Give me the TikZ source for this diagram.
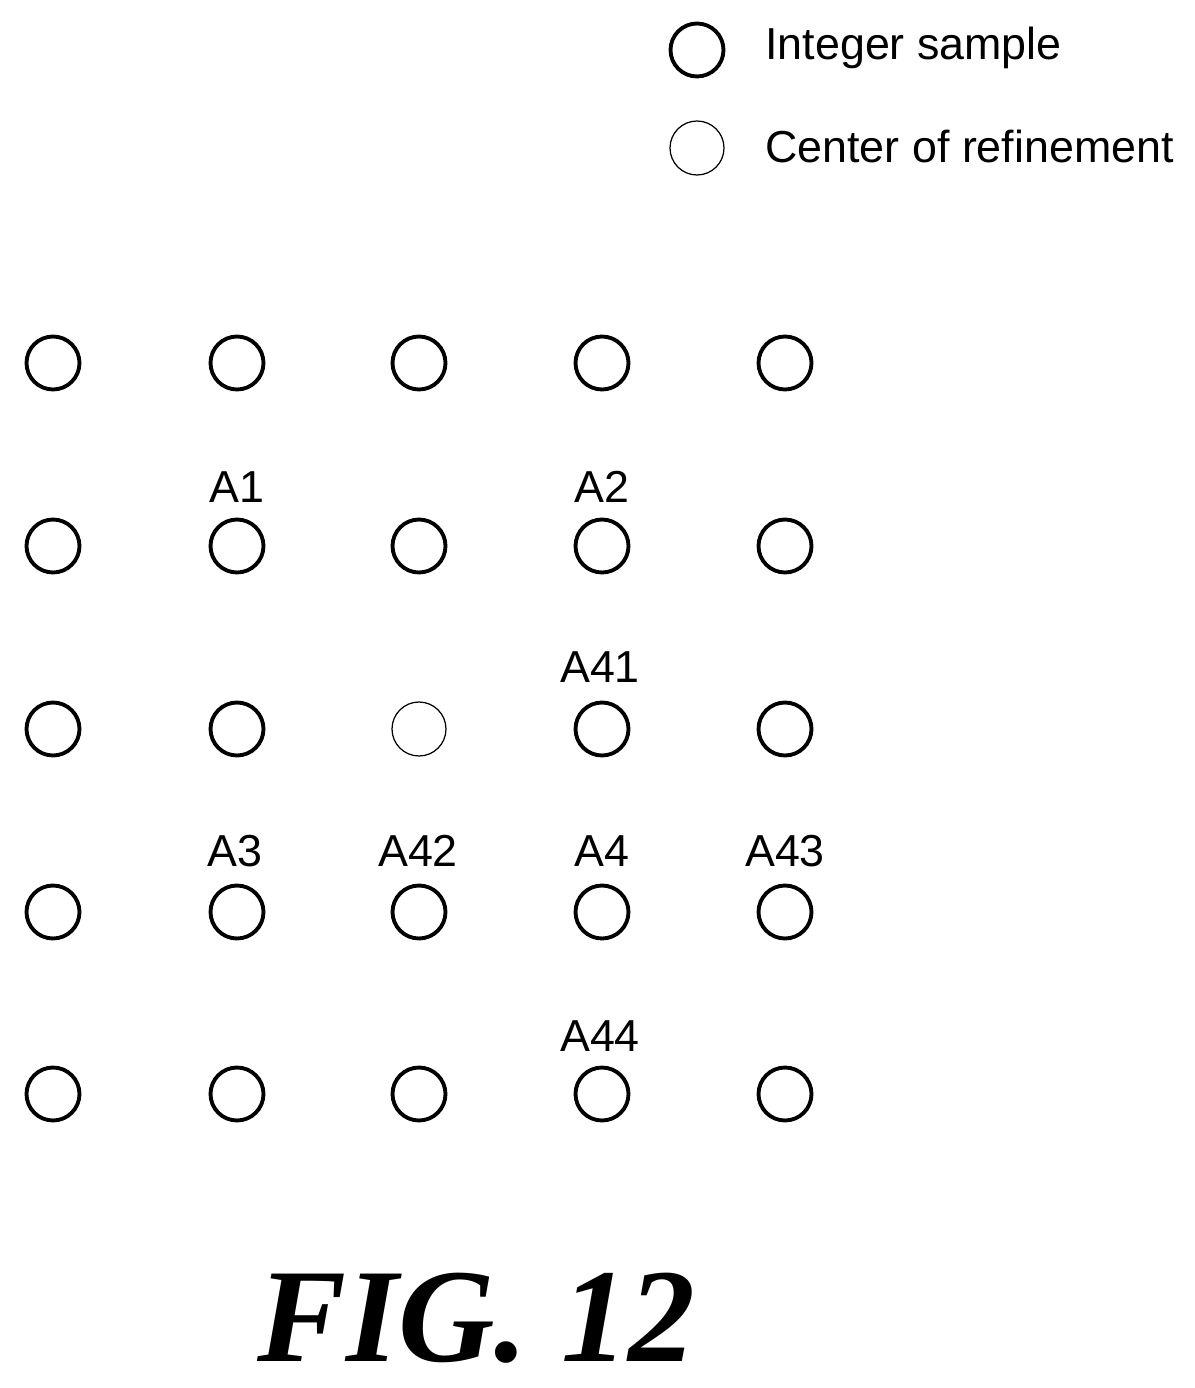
\documentclass[tikz,border=0pt]{standalone}
\usepackage{fontspec}
\setmainfont{Liberation Sans}
\newfontfamily\figfont{Liberation Serif}
\usetikzlibrary{positioning}
\begin{document}
\begin{tikzpicture}[x=0.02cm,y=-0.02cm,
  sample/.style={circle,draw,line width=2.2pt,minimum size=1.06cm,inner sep=0pt},
  center/.style={circle,draw,line width=0.7pt,minimum size=1.08cm,inner sep=0pt},
  lbl/.style={font=\fontsize{25.5}{28}\selectfont,inner sep=0pt}]
  \useasboundingbox (0,0) rectangle (1194,1388);
  % legend
  \node[sample] (legint) at (697,50) {};
  \node[center] (legcen) at (697,148) {};
  \node[lbl,anchor=west] (txtint) at (765,48) {Integer sample};
  \node[lbl,anchor=west] (txtcen) at (765,146) {Center of refinement};
  % grid of samples
  \foreach \c/\x in {1/53,2/237,3/419,4/602,5/785}
    \foreach \r/\y in {1/363,2/546,3/729,4/912,5/1094}
      {\ifnum\c=3 \ifnum\r=3 \else \node[sample] (s\c\r) at (\x,\y) {};\fi
       \else \node[sample] (s\c\r) at (\x,\y) {};\fi}
  \node[center] (s33) at (419,729) {};
  % labels
  \node[lbl] (a1) at (237,487) {A1};
  \node[lbl] (a2) at (602,487) {A2};
  \node[lbl] (a41) at (600,667) {A41};
  \node[lbl] (a3) at (235,851) {A3};
  \node[lbl] (a42) at (418,851) {A42};
  \node[lbl] (a4) at (602,851) {A4};
  \node[lbl] (a43) at (785,851) {A43};
  \node[lbl] (a44) at (600,1036) {A44};
  \node[font=\figfont\bfseries\itshape\fontsize{76}{80}\selectfont,inner sep=0pt] (fig) at (476,1318) {FIG. 12};
\end{tikzpicture}
\end{document}
